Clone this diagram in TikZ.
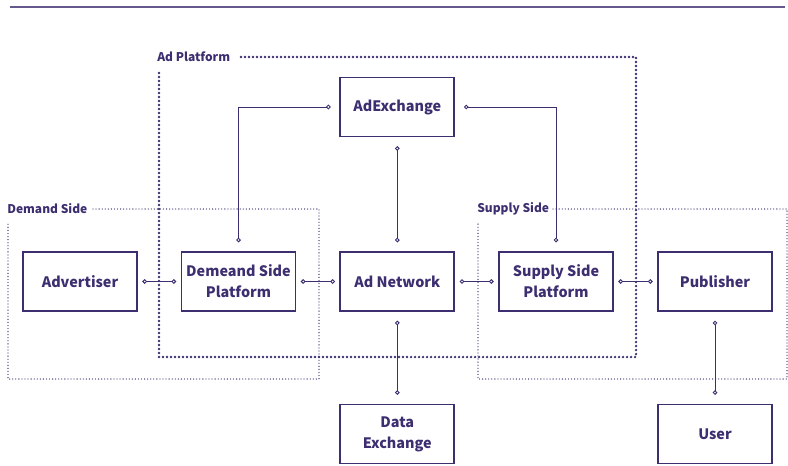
\documentclass[tikz,border=0pt]{standalone}
\usepackage{fontspec}
\setmainfont{Noto Sans CJK KR}
\usetikzlibrary{arrows.meta}
\definecolor{ink}{RGB}{61,46,112}
\begin{document}
\begin{tikzpicture}[x=0.75pt,y=-0.75pt,
	box/.style={draw=ink,line width=1.3pt,minimum width=85.5pt,minimum height=44.3pt,
		align=center,text=ink,font=\fontsize{10.8}{15.6}\selectfont\bfseries,inner sep=0pt},
	link/.style={draw=ink,line width=0.7pt,{Circle[open,length=3.4pt,width=3.4pt]}-{Circle[open,length=3.4pt,width=3.4pt]}},
	near/.style={shorten <=3.4pt,shorten >=3.4pt},
	far/.style={shorten <=6.6pt,shorten >=6.6pt},
	bigdots/.style={draw=ink,line width=1.9pt,line cap=round,dash pattern=on 0pt off 3pt},
	finedots/.style={draw=ink,line width=1pt,line cap=round,dash pattern=on 0pt off 2.3pt},
	tag/.style={anchor=west,text=ink,inner sep=0pt,font=\fontsize{9}{11}\selectfont\bfseries}]
	\useasboundingbox (0,0) rectangle (788,465);
	\draw [ink!80,line width=0.8pt] (10,7) -- (785,7);
	% groups
	\node[tag] (platformtag) at (157,57) {Ad Platform};
	\draw [bigdots] (241,57) -- (636,57) -- (636,357) -- (159,357) -- (159,73);
	\node[tag] (demandtag) at (7,209) {Demand Side};
	\draw [finedots] (93,209) -- (319,209) -- (319,379) -- (8,379) -- (8,223);
	\node[tag] (supplytag) at (477,209) {Supply Side};
	\draw [finedots] (553,209) -- (787,209) -- (787,379) -- (478,379) -- (478,223);
	% boxes
	\node[box] (adv) at (80,281.5) {Advertiser};
	\node[box] (dsp) at (238.5,281.5) {Demeand Side\\Platform};
	\node[box] (adnet) at (397.3,281.5) {Ad Network};
	\node[box] (ssp) at (556,281.5) {Supply Side\\Platform};
	\node[box] (pub) at (715,281.5) {Publisher};
	\node[box] (adx) at (397.3,107) {AdExchange};
	\node[box] (dex) at (397.3,434) {Data\\Exchange};
	\node[box] (user) at (715,434) {User};
	% links
	\draw [link,near] (adv) -- (dsp);
	\draw [link,near] (dsp) -- (adnet);
	\draw [link,near] (adnet) -- (ssp);
	\draw [link,near] (ssp) -- (pub);
	\draw [link,far] (dsp.north) |- (adx.west);
	\draw [link,far] (adx.east) -| (ssp.north);
	\draw [link,far] (adx) -- (adnet);
	\draw [link,far] (adnet) -- (dex);
	\draw [link,far] (pub) -- (user);
\end{tikzpicture}
\end{document}
